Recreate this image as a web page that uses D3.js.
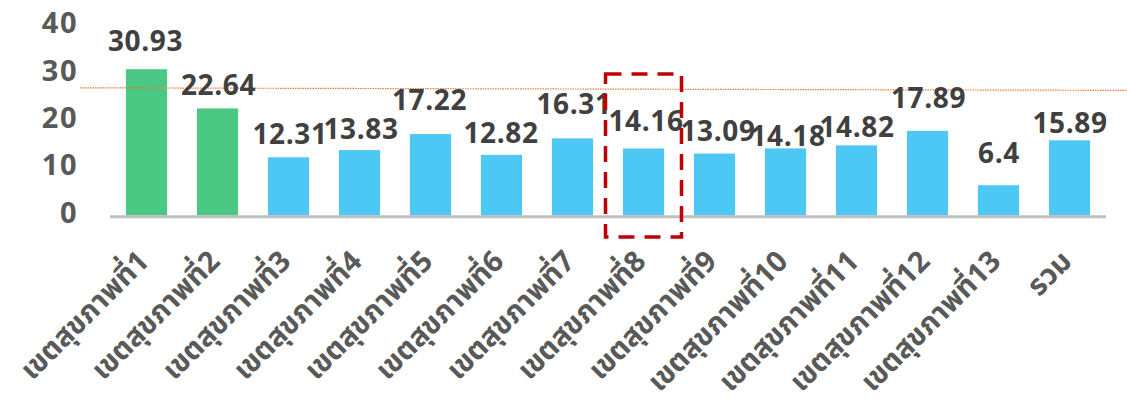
<!DOCTYPE html>
<html lang="th">
<head>
<meta charset="UTF-8">
<title>เขตสุขภาพ</title>
<script src="https://cdn.jsdelivr.net/npm/d3@7"></script>
<style>
  body { margin: 0; background: #fff; }
  text { font-family: "Noto Sans Thai", "Noto Sans", "Open Sans", sans-serif; font-weight: 700; }
</style>
</head>
<body>
<script>
// data
const categories = ["เขตสุขภาพที่1", "เขตสุขภาพที่2", "เขตสุขภาพที่3", "เขตสุขภาพที่4", "เขตสุขภาพที่5",
  "เขตสุขภาพที่6", "เขตสุขภาพที่7", "เขตสุขภาพที่8", "เขตสุขภาพที่9", "เขตสุขภาพที่10",
  "เขตสุขภาพที่11", "เขตสุขภาพที่12", "เขตสุขภาพที่13", "รวม"]
const values = [30.93, 22.64, 12.31, 13.83, 17.22, 12.82, 16.31, 14.16, 13.09, 14.18, 14.82, 17.89, 6.4, 15.89]
const highlighted = ["เขตสุขภาพที่1", "เขตสุขภาพที่2"]   // green bars
const boxed = "เขตสุขภาพที่8"                           // dashed red frame
const yTicks = [0, 10, 20, 30, 40]
const refLine = [27.0, 26.45]                           // dotted orange line (start, end)

// hand-placed label nudges as in the original (px)
const labelLift = [18, 13, 13.5, 11, 23.6, 12.3, 24.6, 18, 13, 2, 8, 22.8, 22.7, 7.2]
const labelShift = [-1, 1, 1.5, 1.5, -1, -0.5, 1.5, 2.5, 3.5, 2.5, 0.5, 1, 0.5, 0.5]

const width = 1127
const height = 403

const svg = d3.select("body").append("svg")
  .attr("width", width)
  .attr("height", height)

const x = d3.scaleBand()
  .domain(categories)
  .range([111, 1105])
  .paddingInner(0.42)
  .paddingOuter(0.21)

const y = d3.scaleLinear()
  .domain([0, 40])
  .range([215.5, 26.3])

// bars
svg.append("g").selectAll("rect")
  .data(values)
  .join("rect")
  .attr("x", (d, i) => x(categories[i]))
  .attr("y", d => y(d))
  .attr("width", x.bandwidth())
  .attr("height", d => y(0) - y(d))
  .attr("fill", (d, i) => highlighted.includes(categories[i]) ? "#4bc884" : "#4dc7f3")

// baseline
svg.append("line")
  .attr("x1", 110).attr("x2", 1106)
  .attr("y1", y(0) + 1.3).attr("y2", y(0) + 1.3)
  .attr("stroke", "#bfbfbf")
  .attr("stroke-width", 3)

// dotted reference line
svg.append("line")
  .attr("x1", 80).attr("x2", width)
  .attr("y1", y(refLine[0])).attr("y2", y(refLine[1]))
  .attr("stroke", "#ed7d31")
  .attr("stroke-width", 1.2)
  .attr("stroke-dasharray", "1.5,1")

// y tick labels
svg.append("g").selectAll("text")
  .data(yTicks)
  .join("text")
  .attr("x", 78)
  .attr("y", d => y(d) - 3)
  .attr("dy", "0.35em")
  .attr("text-anchor", "end")
  .attr("fill", "#595959")
  .style("font-size", "29px")
  .style("letter-spacing", "1.5px")
  .text(d => d)

// value labels
svg.append("g").selectAll("text")
  .data(values)
  .join("text")
  .attr("x", (d, i) => x(categories[i]) + x.bandwidth() / 2 + labelShift[i])
  .attr("y", (d, i) => y(d) - labelLift[i])
  .attr("text-anchor", "middle")
  .attr("fill", "#404040")
  .style("font-size", "28px")
  .style("letter-spacing", "0.6px")
  .text(d => d)

// category labels, rotated
svg.append("g").selectAll("text")
  .data(categories)
  .join("text")
  .attr("transform", d => `translate(${x(d) + x.bandwidth() / 2 + 4}, 263) rotate(-45)`)
  .attr("text-anchor", "end")
  .attr("fill", "#595959")
  .style("font-size", "29px")
  .text(d => d)

// dashed frame around the boxed region
const bx = x(boxed) + x.bandwidth() / 2
svg.append("rect")
  .attr("x", bx - 38)
  .attr("y", 74)
  .attr("width", 76)
  .attr("height", 163)
  .attr("fill", "none")
  .attr("stroke", "#c00000")
  .attr("stroke-width", 3.5)
  .attr("stroke-dasharray", "16,10")
</script>
</body>
</html>
